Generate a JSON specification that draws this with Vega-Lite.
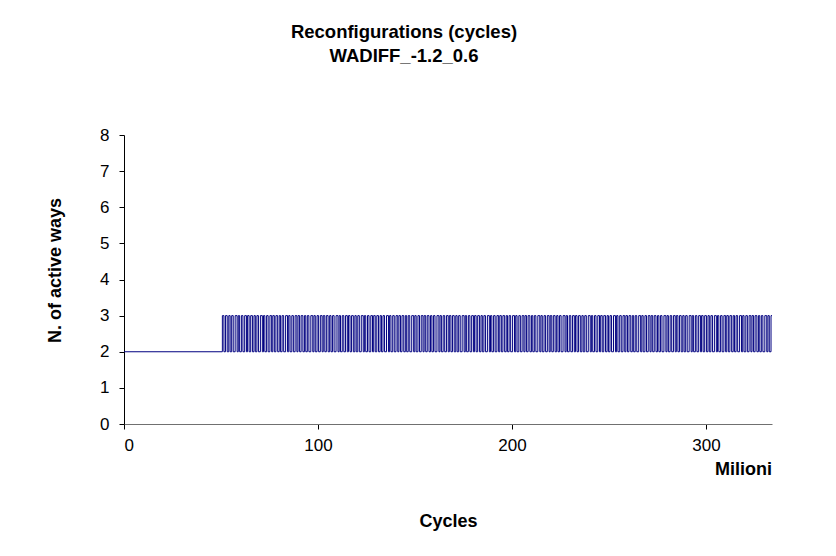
{
  "$schema": "https://vega.github.io/schema/vega-lite/v6.json",
  "width": 648,
  "height": 289,
  "autosize": "none",
  "padding": {"left": 124, "top": 135, "right": 64, "bottom": 132},
  "background": "white",
  "config": {
    "font": "Liberation Sans",
    "view": {"stroke": null},
    "axis": {"grid": false, "domainColor": "#000000", "tickColor": "#000000", "labelColor": "#000000", "titleColor": "#000000", "labelFont": "Liberation Sans", "titleFont": "Liberation Sans", "labelOverlap": false}
  },
  "title": {
    "text": ["Reconfigurations (cycles)", "WADIFF_-1.2_0.6"],
    "fontSize": 18.5,
    "fontWeight": "bold",
    "font": "Liberation Sans",
    "color": "#000000",
    "lineHeight": 24,
    "anchor": "middle",
    "frame": "group",
    "offset": 61,
    "dx": -44
  },
  "data": {"values": [
    {"x":0,"y":2},
    {"x":50.7,"y":3},{"x":51.5,"y":2},{"x":52.3,"y":3},{"x":53.2,"y":2},{"x":54.0,"y":3},{"x":54.7,"y":2},{"x":55.5,"y":3},{"x":56.3,"y":2},{"x":57.3,"y":3},{"x":58.3,"y":2},{"x":58.9,"y":3},{"x":59.6,"y":2},{"x":60.5,"y":3},{"x":61.3,"y":2},{"x":62.2,"y":3},{"x":63.1,"y":2},
    {"x":63.7,"y":3},{"x":64.5,"y":2},{"x":65.3,"y":3},{"x":66.2,"y":2},{"x":67.0,"y":3},{"x":67.7,"y":2},{"x":68.5,"y":3},{"x":69.3,"y":2},{"x":70.3,"y":3},{"x":71.3,"y":2},{"x":71.9,"y":3},{"x":72.6,"y":2},{"x":73.5,"y":3},{"x":74.3,"y":2},{"x":75.2,"y":3},{"x":76.1,"y":2},
    {"x":76.7,"y":3},{"x":77.5,"y":2},{"x":78.3,"y":3},{"x":79.2,"y":2},{"x":80.0,"y":3},{"x":80.7,"y":2},{"x":81.5,"y":3},{"x":82.3,"y":2},{"x":83.3,"y":3},{"x":84.3,"y":2},{"x":84.9,"y":3},{"x":85.6,"y":2},{"x":86.5,"y":3},{"x":87.3,"y":2},{"x":88.2,"y":3},{"x":89.1,"y":2},
    {"x":89.7,"y":3},{"x":90.5,"y":2},{"x":91.3,"y":3},{"x":92.2,"y":2},{"x":93.0,"y":3},{"x":93.7,"y":2},{"x":94.5,"y":3},{"x":95.3,"y":2},{"x":96.3,"y":3},{"x":97.3,"y":2},{"x":97.9,"y":3},{"x":98.6,"y":2},{"x":99.5,"y":3},{"x":100.3,"y":2},{"x":101.2,"y":3},{"x":102.1,"y":2},
    {"x":102.7,"y":3},{"x":103.5,"y":2},{"x":104.3,"y":3},{"x":105.2,"y":2},{"x":106.0,"y":3},{"x":106.7,"y":2},{"x":107.5,"y":3},{"x":108.3,"y":2},{"x":109.3,"y":3},{"x":110.3,"y":2},{"x":110.9,"y":3},{"x":111.6,"y":2},{"x":112.5,"y":3},{"x":113.3,"y":2},{"x":114.2,"y":3},{"x":115.1,"y":2},
    {"x":115.7,"y":3},{"x":116.5,"y":2},{"x":117.3,"y":3},{"x":118.2,"y":2},{"x":119.0,"y":3},{"x":119.7,"y":2},{"x":120.5,"y":3},{"x":121.3,"y":2},{"x":122.3,"y":3},{"x":123.3,"y":2},{"x":123.9,"y":3},{"x":124.6,"y":2},{"x":125.5,"y":3},{"x":126.3,"y":2},{"x":127.2,"y":3},{"x":128.1,"y":2},
    {"x":128.7,"y":3},{"x":129.5,"y":2},{"x":130.3,"y":3},{"x":131.2,"y":2},{"x":132.0,"y":3},{"x":132.7,"y":2},{"x":133.5,"y":3},{"x":134.3,"y":2},{"x":135.3,"y":3},{"x":136.3,"y":2},{"x":136.9,"y":3},{"x":137.6,"y":2},{"x":138.5,"y":3},{"x":139.3,"y":2},{"x":140.2,"y":3},{"x":141.1,"y":2},
    {"x":141.7,"y":3},{"x":142.5,"y":2},{"x":143.3,"y":3},{"x":144.2,"y":2},{"x":145.0,"y":3},{"x":145.7,"y":2},{"x":146.5,"y":3},{"x":147.3,"y":2},{"x":148.3,"y":3},{"x":149.3,"y":2},{"x":149.9,"y":3},{"x":150.6,"y":2},{"x":151.5,"y":3},{"x":152.3,"y":2},{"x":153.2,"y":3},{"x":154.1,"y":2},
    {"x":154.7,"y":3},{"x":155.5,"y":2},{"x":156.3,"y":3},{"x":157.2,"y":2},{"x":158.0,"y":3},{"x":158.7,"y":2},{"x":159.5,"y":3},{"x":160.3,"y":2},{"x":161.3,"y":3},{"x":162.3,"y":2},{"x":162.9,"y":3},{"x":163.6,"y":2},{"x":164.5,"y":3},{"x":165.3,"y":2},{"x":166.2,"y":3},{"x":167.1,"y":2},
    {"x":167.7,"y":3},{"x":168.5,"y":2},{"x":169.3,"y":3},{"x":170.2,"y":2},{"x":171.0,"y":3},{"x":171.7,"y":2},{"x":172.5,"y":3},{"x":173.3,"y":2},{"x":174.3,"y":3},{"x":175.3,"y":2},{"x":175.9,"y":3},{"x":176.6,"y":2},{"x":177.5,"y":3},{"x":178.3,"y":2},{"x":179.2,"y":3},{"x":180.1,"y":2},
    {"x":180.7,"y":3},{"x":181.5,"y":2},{"x":182.3,"y":3},{"x":183.2,"y":2},{"x":184.0,"y":3},{"x":184.7,"y":2},{"x":185.5,"y":3},{"x":186.3,"y":2},{"x":187.3,"y":3},{"x":188.3,"y":2},{"x":188.9,"y":3},{"x":189.6,"y":2},{"x":190.5,"y":3},{"x":191.3,"y":2},{"x":192.2,"y":3},{"x":193.1,"y":2},
    {"x":193.7,"y":3},{"x":194.5,"y":2},{"x":195.3,"y":3},{"x":196.2,"y":2},{"x":197.0,"y":3},{"x":197.7,"y":2},{"x":198.5,"y":3},{"x":199.3,"y":2},{"x":200.3,"y":3},{"x":201.3,"y":2},{"x":201.9,"y":3},{"x":202.6,"y":2},{"x":203.5,"y":3},{"x":204.3,"y":2},{"x":205.2,"y":3},{"x":206.1,"y":2},
    {"x":206.7,"y":3},{"x":207.5,"y":2},{"x":208.3,"y":3},{"x":209.2,"y":2},{"x":210.0,"y":3},{"x":210.7,"y":2},{"x":211.5,"y":3},{"x":212.3,"y":2},{"x":213.3,"y":3},{"x":214.3,"y":2},{"x":214.9,"y":3},{"x":215.6,"y":2},{"x":216.5,"y":3},{"x":217.3,"y":2},{"x":218.2,"y":3},{"x":219.1,"y":2},
    {"x":219.7,"y":3},{"x":220.5,"y":2},{"x":221.3,"y":3},{"x":222.2,"y":2},{"x":223.0,"y":3},{"x":223.7,"y":2},{"x":224.5,"y":3},{"x":225.3,"y":2},{"x":226.3,"y":3},{"x":227.3,"y":2},{"x":227.9,"y":3},{"x":228.6,"y":2},{"x":229.5,"y":3},{"x":230.3,"y":2},{"x":231.2,"y":3},{"x":232.1,"y":2},
    {"x":232.7,"y":3},{"x":233.5,"y":2},{"x":234.3,"y":3},{"x":235.2,"y":2},{"x":236.0,"y":3},{"x":236.7,"y":2},{"x":237.5,"y":3},{"x":238.3,"y":2},{"x":239.3,"y":3},{"x":240.3,"y":2},{"x":240.9,"y":3},{"x":241.6,"y":2},{"x":242.5,"y":3},{"x":243.3,"y":2},{"x":244.2,"y":3},{"x":245.1,"y":2},
    {"x":245.7,"y":3},{"x":246.5,"y":2},{"x":247.3,"y":3},{"x":248.2,"y":2},{"x":249.0,"y":3},{"x":249.7,"y":2},{"x":250.5,"y":3},{"x":251.3,"y":2},{"x":252.3,"y":3},{"x":253.3,"y":2},{"x":253.9,"y":3},{"x":254.6,"y":2},{"x":255.5,"y":3},{"x":256.3,"y":2},{"x":257.2,"y":3},{"x":258.1,"y":2},
    {"x":258.7,"y":3},{"x":259.5,"y":2},{"x":260.3,"y":3},{"x":261.2,"y":2},{"x":262.0,"y":3},{"x":262.7,"y":2},{"x":263.5,"y":3},{"x":264.3,"y":2},{"x":265.3,"y":3},{"x":266.3,"y":2},{"x":266.9,"y":3},{"x":267.6,"y":2},{"x":268.5,"y":3},{"x":269.3,"y":2},{"x":270.2,"y":3},{"x":271.1,"y":2},
    {"x":271.7,"y":3},{"x":272.5,"y":2},{"x":273.3,"y":3},{"x":274.2,"y":2},{"x":275.0,"y":3},{"x":275.7,"y":2},{"x":276.5,"y":3},{"x":277.3,"y":2},{"x":278.3,"y":3},{"x":279.3,"y":2},{"x":279.9,"y":3},{"x":280.6,"y":2},{"x":281.5,"y":3},{"x":282.3,"y":2},{"x":283.2,"y":3},{"x":284.1,"y":2},
    {"x":284.7,"y":3},{"x":285.5,"y":2},{"x":286.3,"y":3},{"x":287.2,"y":2},{"x":288.0,"y":3},{"x":288.7,"y":2},{"x":289.5,"y":3},{"x":290.3,"y":2},{"x":291.3,"y":3},{"x":292.3,"y":2},{"x":292.9,"y":3},{"x":293.6,"y":2},{"x":294.5,"y":3},{"x":295.3,"y":2},{"x":296.2,"y":3},{"x":297.1,"y":2},
    {"x":297.7,"y":3},{"x":298.5,"y":2},{"x":299.3,"y":3},{"x":300.2,"y":2},{"x":301.0,"y":3},{"x":301.7,"y":2},{"x":302.5,"y":3},{"x":303.3,"y":2},{"x":304.3,"y":3},{"x":305.3,"y":2},{"x":305.9,"y":3},{"x":306.6,"y":2},{"x":307.5,"y":3},{"x":308.3,"y":2},{"x":309.2,"y":3},{"x":310.1,"y":2},
    {"x":310.7,"y":3},{"x":311.5,"y":2},{"x":312.3,"y":3},{"x":313.2,"y":2},{"x":314.0,"y":3},{"x":314.7,"y":2},{"x":315.5,"y":3},{"x":316.3,"y":2},{"x":317.3,"y":3},{"x":318.3,"y":2},{"x":318.9,"y":3},{"x":319.6,"y":2},{"x":320.5,"y":3},{"x":321.3,"y":2},{"x":322.2,"y":3},{"x":323.1,"y":2},
    {"x":323.7,"y":3},{"x":324.5,"y":2},{"x":325.3,"y":3},{"x":326.2,"y":2},{"x":327.0,"y":3},{"x":327.7,"y":2},{"x":328.5,"y":3},{"x":329.3,"y":2},{"x":330.3,"y":3},{"x":331.3,"y":2},{"x":331.9,"y":3},{"x":332.6,"y":2},{"x":333.5,"y":3},{"x":334,"y":3}
  ]},
  "encoding": {
    "x": {
      "field": "x", "type": "quantitative",
      "scale": {"domain": [0, 334], "nice": false, "zero": true},
      "axis": {
        "values": [0, 100, 200, 300], "format": "d",
        "domainColor": "#707070",
        "labelFontSize": 17, "labelPadding": 8, "tickSize": 5,
        "title": "Cycles", "titleFontSize": 18, "titleFontWeight": "bold",
        "titleX": 324, "titleY": 97, "titleBaseline": "middle", "titleAlign": "center"
      }
    },
    "y": {
      "field": "y", "type": "quantitative",
      "scale": {"domain": [0, 8], "nice": false},
      "axis": {
        "values": [0, 1, 2, 3, 4, 5, 6, 7, 8], "format": "d",
        "labelFontSize": 17, "labelPadding": 10, "tickSize": 5,
        "title": "N. of active ways", "titleFontSize": 18, "titleFontWeight": "bold",
        "titleX": -69, "titleY": 135, "titleAngle": -90, "titleBaseline": "middle", "titleAlign": "center"
      }
    }
  },
  "layer": [
    {
      "mark": {"type": "line", "interpolate": "step-after", "color": "#000080", "strokeWidth": 1}
    },
    {
      "data": {"values": [{"x": 334, "y": -1.27, "label": "Milioni"}]},
      "mark": {"type": "text", "align": "right", "baseline": "middle", "fontSize": 18, "fontWeight": "bold", "font": "Liberation Sans", "color": "#000000"},
      "encoding": {
        "text": {"field": "label"}
      }
    }
  ]
}
